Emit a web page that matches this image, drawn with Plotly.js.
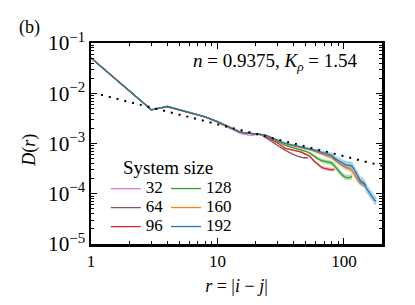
<!DOCTYPE html>
<html>
<head>
<meta charset="utf-8">
<script src="https://cdn.plot.ly/plotly-3.0.1.min.js"></script>
<style>html,body{margin:0;padding:0;background:#fff;}#chart{width:415px;height:305px;}</style>
</head>
<body>
<div id="chart"></div>
<script>
// ---- data ----
const sizes = ['32', '64', '96', '128', '160', '192'];
const colors = ['#e377c2', '#8c564b', '#d62728', '#2ca02c', '#ff7f0e', '#1f77b4'];
const legendGroup = ['legend', 'legend', 'legend', 'legend2', 'legend2', 'legend2'];

// shared short-distance part (all sizes coincide)
const headR = [1, 2, 3, 4, 5, 6, 7, 8];
const headD = [0.0505, 0.0113, 0.00468, 0.00545, 0.0047, 0.0042, 0.0037, 0.0034];
// shared middle part for L >= 64
const midR = [10, 11, 12, 13, 14, 15, 16, 18, 20, 22];
const midD = [0.00272, 0.00243, 0.00218, 0.00196, 0.0018, 0.0017, 0.00164, 0.00158, 0.00155, 0.00152];

// L = 32
const r32 = [10, 11, 12, 13, 14, 15, 16, 17, 18, 19, 20];
const d32 = [0.00262, 0.00234, 0.00208, 0.00188, 0.00172, 0.00161, 0.00153, 0.00149, 0.00147, 0.00147, 0.00148];
const e32 = [0.003, 0.003, 0.003, 0.003, 0.003, 0.003, 0.003, 0.003, 0.003, 0.003, 0.003];
// L = 64
const r64 = [24, 26, 28, 30, 33, 36, 40, 44, 48, 52];
const d64 = [0.00132, 0.00115, 0.00105, 0.00093, 0.00078, 0.00069, 0.0006, 0.00055, 0.00052, 0.00052];
const e64 = [0.005, 0.005, 0.006, 0.006, 0.007, 0.008, 0.009, 0.01, 0.01, 0.01];
// L = 96
const r96 = [24, 26, 28, 30, 34, 38, 42, 46, 50, 54, 58, 62, 66, 70, 75, 80, 84];
const d96 = [0.00138, 0.00124, 0.00112, 0.00102, 0.00081, 0.00076, 0.00072, 0.00067, 0.00061, 0.00055, 0.00045, 0.00038, 0.00034, 0.00032, 0.000305, 0.0003, 0.000305];
const e96 = [0.006, 0.006, 0.008, 0.008, 0.01, 0.012, 0.014, 0.016, 0.02, 0.024, 0.028, 0.03, 0.032, 0.034, 0.034, 0.034, 0.034];
// L = 128
const r128 = [24, 26, 28, 30, 34, 38, 42, 46, 50, 54, 58, 62, 66, 70, 75, 80, 85, 90, 95, 100, 105, 110, 116];
const d128 = [0.00146, 0.00132, 0.0012, 0.0011, 0.00093, 0.00085, 0.00079, 0.00075, 0.0007, 0.00064, 0.00056, 0.0005, 0.00046, 0.00044, 0.00043, 0.00041, 0.00035, 0.00029, 0.00025, 0.00022, 0.00021, 0.00021, 0.00022];
const e128 = [0.008, 0.008, 0.01, 0.01, 0.012, 0.014, 0.016, 0.02, 0.024, 0.028, 0.032, 0.036, 0.04, 0.044, 0.048, 0.05, 0.055, 0.055, 0.055, 0.055, 0.055, 0.055, 0.055];
// L = 160
const r160 = [24, 26, 28, 30, 34, 38, 42, 46, 50, 55, 60, 65, 70, 75, 80, 85, 90, 95, 100, 105, 110, 115, 120, 125, 130, 135, 140, 144, 148];
const d160 = [0.00146, 0.00133, 0.00122, 0.00114, 0.00099, 0.00092, 0.00087, 0.00083, 0.00078, 0.00074, 0.00069, 0.00063, 0.00059, 0.00056, 0.00053, 0.00047, 0.00042, 0.00038, 0.00035, 0.00033, 0.00032, 0.00029, 0.00024, 0.0002, 0.00018, 0.000165, 0.00016, 0.000155, 0.00015];
const e160 = [0.008, 0.008, 0.01, 0.01, 0.012, 0.014, 0.016, 0.018, 0.02, 0.024, 0.028, 0.032, 0.036, 0.04, 0.045, 0.05, 0.055, 0.055, 0.06, 0.06, 0.06, 0.06, 0.06, 0.06, 0.06, 0.055, 0.055, 0.055, 0.055];
// L = 192
const r192 = [24, 26, 28, 30, 34, 38, 42, 46, 50, 55, 60, 65, 70, 75, 80, 85, 90, 95, 100, 105, 110, 115, 120, 125, 130, 135, 140, 145, 150, 155, 160, 165, 170, 175, 180];
const d192 = [0.00147, 0.00135, 0.00124, 0.00116, 0.00102, 0.00095, 0.0009, 0.00086, 0.00082, 0.00078, 0.00073, 0.00068, 0.00064, 0.00061, 0.00058, 0.0005, 0.00046, 0.00043, 0.0004, 0.00037, 0.00037, 0.00036, 0.00031, 0.00025, 0.00021, 0.00018, 0.00017, 0.00016, 0.00013, 0.000115, 0.0001, 0.000088, 0.000079, 0.000074, 0.000072];
const e192 = [0.01, 0.01, 0.012, 0.014, 0.016, 0.018, 0.02, 0.022, 0.025, 0.03, 0.035, 0.04, 0.045, 0.05, 0.055, 0.06, 0.07, 0.075, 0.08, 0.08, 0.08, 0.085, 0.085, 0.085, 0.09, 0.09, 0.09, 0.09, 0.09, 0.09, 0.09, 0.09, 0.09, 0.09, 0.09];

// power-law guide (dotted)
const fitR = [1.2, 200];
const fitD = [0.0093, 0.00036];

const tails = [
  {r: r32, d: d32, e: e32, mid: false},
  {r: r64, d: d64, e: e64, mid: true},
  {r: r96, d: d96, e: e96, mid: true},
  {r: r128, d: d128, e: e128, mid: true},
  {r: r160, d: d160, e: e160, mid: true},
  {r: r192, d: d192, e: e192, mid: true}
];

function rgba(hex, a) {
  const n = parseInt(hex.slice(1), 16);
  return 'rgba(' + ((n >> 16) & 255) + ',' + ((n >> 8) & 255) + ',' + (n & 255) + ',' + a + ')';
}

const FONT = '"Liberation Serif", "DejaVu Serif", serif';
const traces = [];
tails.forEach((t, i) => {
  const lo = t.d.map((v, k) => v * Math.pow(10, -t.e[k]));
  const hi = t.d.map((v, k) => v * Math.pow(10, t.e[k]));
  traces.push({x: t.r, y: lo, mode: 'lines', line: {width: 0, color: colors[i]}, showlegend: false, hoverinfo: 'skip'});
  traces.push({x: t.r, y: hi, mode: 'lines', line: {width: 0, color: colors[i]}, fill: 'tonexty',
    fillcolor: rgba(colors[i], 0.35), showlegend: false, hoverinfo: 'skip'});
  const xr = headR.concat(t.mid ? midR : [], t.r);
  const yd = headD.concat(t.mid ? midD : [], t.d);
  traces.push({x: xr, y: yd, mode: 'lines', legend: legendGroup[i],
    name: '<span style="font-size:17px">' + sizes[i] + '</span>',
    line: {color: colors[i], width: 1.3}});
});
traces.push({x: fitR, y: fitD, mode: 'lines', line: {color: 'black', width: 2, dash: '2px,6px'}, showlegend: false});

const axisCommon = {
  type: 'log', showgrid: false, zeroline: false, showline: true, linecolor: 'black', linewidth: 2.5,
  mirror: 'allticks', ticks: 'inside', ticklen: 6, tickwidth: 1, tickcolor: 'black',
  dtick: 1, tickfont: {family: FONT, size: 17, color: 'black'},
  minor: {ticks: 'inside', ticklen: 3, tickwidth: 1, tickcolor: 'black', dtick: 'D1', showgrid: false}
};

const legendCommon = {
  orientation: 'v', yanchor: 'top', xanchor: 'left', traceorder: 'normal',
  bgcolor: 'rgba(0,0,0,0)', itemwidth: 30,
  font: {family: FONT, size: 11.5, color: 'black'}
};

const layout = {
  width: 415, height: 305,
  margin: {l: 91, r: 33, t: 43, b: 61},
  paper_bgcolor: 'white', plot_bgcolor: 'white',
  showlegend: true,
  xaxis: Object.assign({}, axisCommon, {
    range: [0, Math.log10(200)],
    title: {text: '<i>r</i> = |<i>i</i> − <i>j</i>|', font: {family: FONT, size: 18, color: 'black'}, standoff: 10}
  }),
  yaxis: Object.assign({}, axisCommon, {
    range: [-5, -1], exponentformat: 'power', showexponent: 'all'
  }),
  legend: Object.assign({}, legendCommon, {x: 0.051, y: 0.348}),
  legend2: Object.assign({}, legendCommon, {x: 0.258, y: 0.348}),
  annotations: [
    {xref: 'paper', yref: 'paper', x: -0.21, y: 0.468, xanchor: 'center', yanchor: 'middle', textangle: -90,
      text: '<i>D</i>(<i>r</i>)', showarrow: false, font: {family: FONT, size: 18, color: 'black'}},
    {xref: 'paper', yref: 'paper', x: -0.21, y: 1.077, xanchor: 'center', yanchor: 'middle', text: '(b)', showarrow: false,
      font: {family: FONT, size: 18, color: 'black'}},
    {xref: 'paper', yref: 'paper', x: 0.264, y: 0.38, xanchor: 'center', yanchor: 'middle', text: 'System size', showarrow: false,
      font: {family: FONT, size: 19, color: 'black'}},
    {xref: 'paper', yref: 'paper', x: 0.925, y: 0.903, xanchor: 'right', yanchor: 'middle',
      text: '<i>n</i> = 0.9375, <i>K</i><sub><i>ρ</i></sub> = 1.54',
      showarrow: false, font: {family: FONT, size: 19, color: 'black'}}
  ]
};

Plotly.newPlot('chart', traces, layout, {staticPlot: true, displayModeBar: false});
</script>
</body>
</html>
